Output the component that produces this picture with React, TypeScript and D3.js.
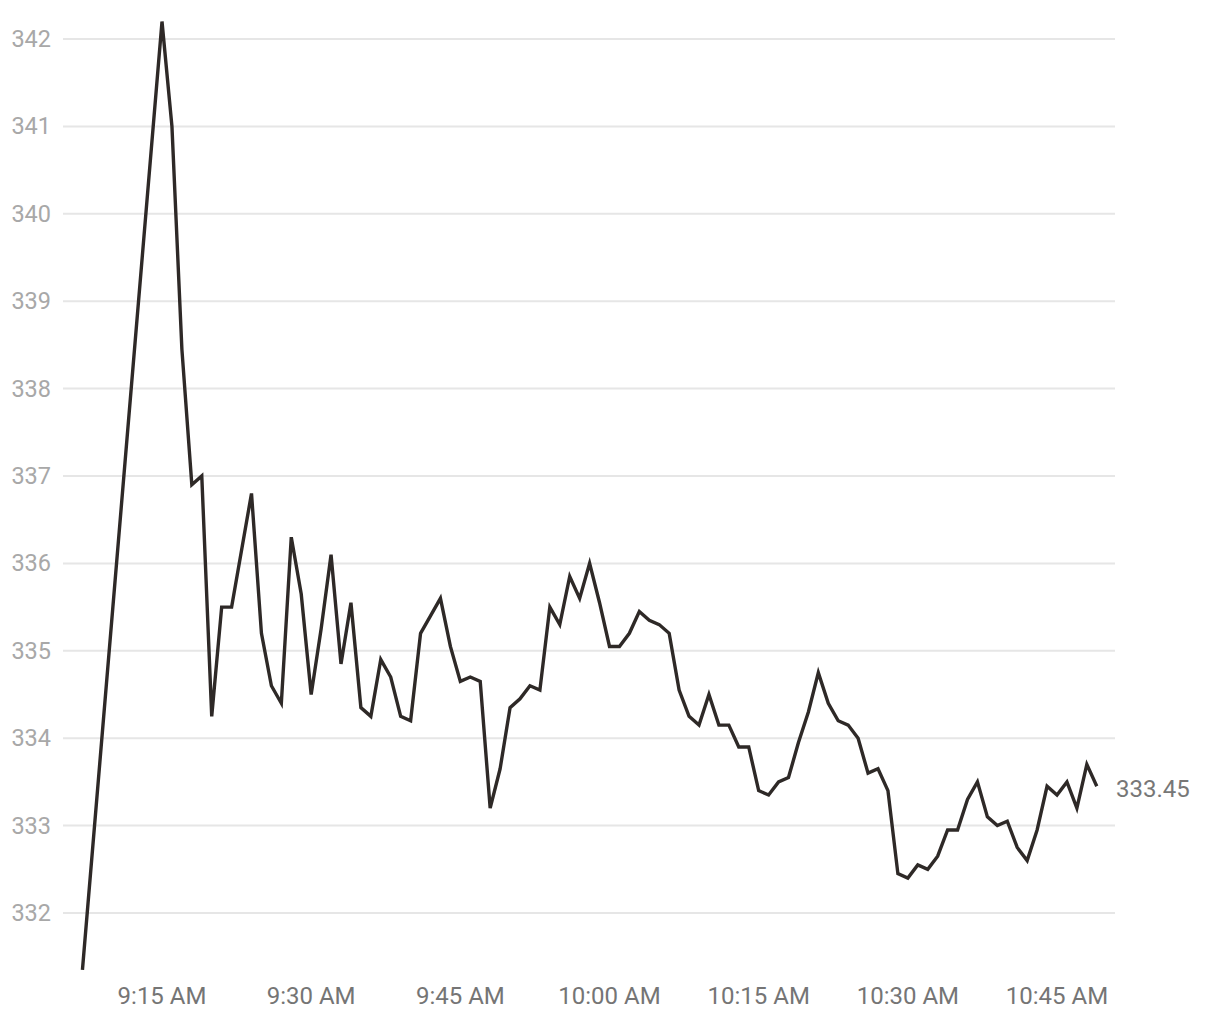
import React from 'react';
import * as d3 from 'd3';

// minute bars (first print at 9:07, then every minute from 9:15)
const times = [
  '9:07',
  '9:15', '9:16', '9:17', '9:18', '9:19', '9:20', '9:21', '9:22', '9:23', '9:24',
  '9:25', '9:26', '9:27', '9:28', '9:29', '9:30', '9:31', '9:32', '9:33', '9:34',
  '9:35', '9:36', '9:37', '9:38', '9:39', '9:40', '9:41', '9:42', '9:43', '9:44',
  '9:45', '9:46', '9:47', '9:48', '9:49', '9:50', '9:51', '9:52', '9:53', '9:54',
  '9:55', '9:56', '9:57', '9:58', '9:59', '10:00', '10:01', '10:02', '10:03', '10:04',
  '10:05', '10:06', '10:07', '10:08', '10:09', '10:10', '10:11', '10:12', '10:13', '10:14',
  '10:15', '10:16', '10:17', '10:18', '10:19', '10:20', '10:21', '10:22', '10:23', '10:24',
  '10:25', '10:26', '10:27', '10:28', '10:29', '10:30', '10:31', '10:32', '10:33', '10:34',
  '10:35', '10:36', '10:37', '10:38', '10:39', '10:40', '10:41', '10:42', '10:43', '10:44',
  '10:45', '10:46', '10:47', '10:48', '10:49',
];

const prices = [
  331.35,
  342.2, 341.0, 338.45, 336.9, 337.0, 334.25, 335.5, 335.5, 336.15, 336.8,
  335.2, 334.6, 334.4, 336.3, 335.65, 334.5, 335.25, 336.1, 334.85, 335.55,
  334.35, 334.25, 334.9, 334.7, 334.25, 334.2, 335.2, 335.4, 335.6, 335.05,
  334.65, 334.7, 334.65, 333.2, 333.65, 334.35, 334.45, 334.6, 334.55, 335.5,
  335.3, 335.85, 335.6, 336.0, 335.55, 335.05, 335.05, 335.2, 335.45, 335.35,
  335.3, 335.2, 334.55, 334.25, 334.15, 334.5, 334.15, 334.15, 333.9, 333.9,
  333.4, 333.35, 333.5, 333.55, 333.95, 334.3, 334.75, 334.4, 334.2, 334.15,
  334.0, 333.6, 333.65, 333.4, 332.45, 332.4, 332.55, 332.5, 332.65, 332.95,
  332.95, 333.3, 333.5, 333.1, 333.0, 333.05, 332.75, 332.6, 332.95, 333.45,
  333.35, 333.5, 333.2, 333.7, 333.45,
];

const yTicks = [332, 333, 334, 335, 336, 337, 338, 339, 340, 341, 342];
const xTickTimes = ['9:15', '9:30', '9:45', '10:00', '10:15', '10:30', '10:45'];

const W = 1220;
const H = 1020;
const FONT = 'Roboto, "Noto Sans", sans-serif';

const parse = d3.timeParse('%H:%M');
const fmt = d3.timeFormat('%-I:%M %p');

export default function App() {
  const data = times.map((t, i) => ({ t: parse(t) as Date, v: prices[i] }));

  const x = d3.scaleTime()
    .domain([parse('9:15') as Date, parse('10:45') as Date])
    .range([162, 1057]);

  const y = d3.scaleLinear()
    .domain([332, 342])
    .range([913, 39]);

  const line = d3.line<{ t: Date; v: number }>()
    .x(d => x(d.t))
    .y(d => y(d.v));

  const last = data[data.length - 1];

  return (
    <svg
      width={W}
      height={H}
      style={{ position: 'absolute', left: 0, top: 0, background: '#fff' }}
      fontFamily={FONT}
    >
      {/* horizontal gridlines + y labels */}
      {yTicks.map(t => (
        <g key={t}>
          <line x1={63} x2={1115} y1={y(t)} y2={y(t)} stroke="#e6e6e6" strokeWidth={2} />
          <text
            x={51}
            y={y(t)}
            textAnchor="end"
            dominantBaseline="central"
            fontSize={23.5}
            fill="#a8a8a8"
          >
            {t}
          </text>
        </g>
      ))}

      {/* x labels */}
      {xTickTimes.map(s => {
        const d = parse(s) as Date;
        return (
          <text key={s} x={x(d)} y={1004} textAnchor="middle" fontSize={24} fill="#757575">
            {fmt(d)}
          </text>
        );
      })}

      <path
        d={line(data) || ''}
        fill="none"
        stroke="#2e2927"
        strokeWidth={3.4}
        strokeLinejoin="miter"
      />

      {/* last value */}
      <text
        x={1116}
        y={y(last.v) + 3}
        dominantBaseline="central"
        fontSize={24}
        fill="#777"
      >
        {last.v.toFixed(2)}
      </text>
    </svg>
  );
}
